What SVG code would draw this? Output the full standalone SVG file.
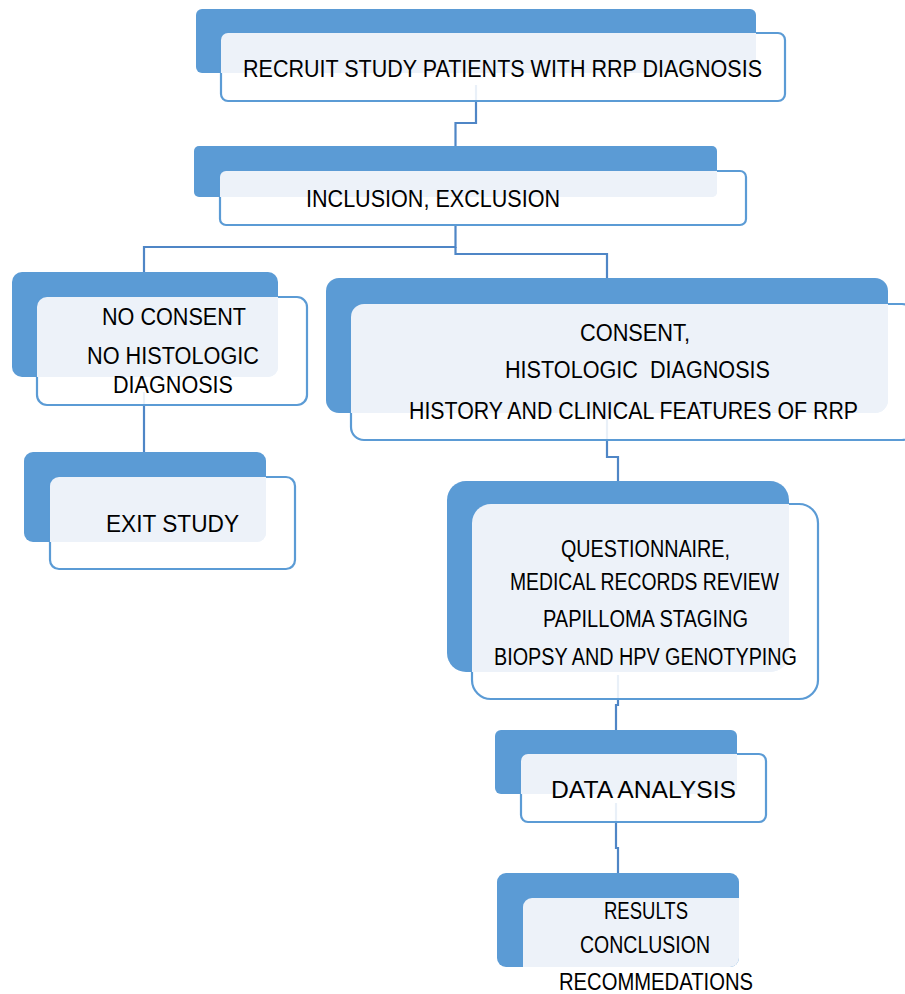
<svg xmlns="http://www.w3.org/2000/svg" width="905" height="994" viewBox="0 0 905 994">
<style>
.back{fill:#5B9BD5}
.front{fill:#ffffff;fill-opacity:0.88;stroke:#5B9BD5;stroke-width:2.2}
.ov{fill:#EDF2F9}
.conn{fill:none;stroke:#4F86C6;stroke-width:2.2}
text{font-family:"Liberation Sans",Arial,sans-serif;fill:#000;font-size:23px}
</style>
<rect width="905" height="994" fill="#ffffff"/>
<g id="connectors">
<path class="conn" d="M476,85 V123 H455.5 V146"/>
<path class="conn" d="M455.5,225 V247 H144 V272"/>
<path class="conn" d="M455.5,247 V254 H607 V278"/>
<path class="conn" d="M144,392 V452"/>
<path class="conn" d="M607,413 V457 H618 V481"/>
<path class="conn" d="M618,675 V705 H616 V730"/>
<path class="conn" d="M616,803 V848 H618 V873"/>
</g>
<g id="n1">
<rect class="back" x="196" y="9" width="560" height="64" rx="6"/>
<rect class="front" x="221" y="33" width="564" height="68" rx="7"/>
<path class="ov" d="M228,33 H756 V67 A6,6 0 0 1 750,73 H221 V40 A7,7 0 0 1 228,33 Z"/>
<text x="243" y="77" textLength="519" lengthAdjust="spacingAndGlyphs">RECRUIT STUDY PATIENTS WITH RRP DIAGNOSIS</text>
</g>
<g id="n2">
<rect class="back" x="194" y="146" width="523" height="51" rx="5"/>
<rect class="front" x="220" y="171" width="526" height="54" rx="6"/>
<path class="ov" d="M226,171 H717 V192 A5,5 0 0 1 712,197 H220 V177 A6,6 0 0 1 226,171 Z"/>
<text x="306" y="207" textLength="254" lengthAdjust="spacingAndGlyphs">INCLUSION, EXCLUSION</text>
</g>
<g id="n3">
<rect class="back" x="12" y="272" width="266" height="105" rx="10"/>
<rect class="front" x="37" y="297" width="270" height="108" rx="10"/>
<path class="ov" d="M47,297 H278 V367 A10,10 0 0 1 268,377 H37 V307 A10,10 0 0 1 47,297 Z"/>
<text x="102" y="325" textLength="144" lengthAdjust="spacingAndGlyphs">NO CONSENT</text>
<text x="87" y="364" textLength="172" lengthAdjust="spacingAndGlyphs">NO HISTOLOGIC</text>
<text x="113" y="393" textLength="120" lengthAdjust="spacingAndGlyphs">DIAGNOSIS</text>
</g>
<g id="n4">
<rect class="back" x="24" y="452" width="242" height="90" rx="9"/>
<rect class="front" x="50" y="477" width="245" height="92" rx="9"/>
<path class="ov" d="M59,477 H266 V533 A9,9 0 0 1 257,542 H50 V486 A9,9 0 0 1 59,477 Z"/>
<text x="106" y="532" font-size="25" textLength="133" lengthAdjust="spacingAndGlyphs">EXIT STUDY</text>
</g>
<g id="n5">
<rect class="back" x="326" y="278" width="562" height="135" rx="13"/>
<rect class="front" x="351" y="304" width="564" height="136" rx="13"/>
<path class="ov" d="M364,304 H888 V400 A13,13 0 0 1 875,413 H351 V317 A13,13 0 0 1 364,304 Z"/>
<text x="580" y="341" textLength="110" lengthAdjust="spacingAndGlyphs">CONSENT,</text>
<text x="505" y="378" textLength="265" lengthAdjust="spacingAndGlyphs" xml:space="preserve">HISTOLOGIC  DIAGNOSIS</text>
<text x="409" y="419" textLength="449" lengthAdjust="spacingAndGlyphs">HISTORY AND CLINICAL FEATURES OF RRP</text>
</g>
<g id="n6">
<rect class="back" x="447" y="481" width="342" height="191" rx="19"/>
<rect class="front" x="472" y="504" width="346" height="195" rx="19"/>
<path class="ov" d="M491,504 H789 V653 A19,19 0 0 1 770,672 H472 V523 A19,19 0 0 1 491,504 Z"/>
<text x="561" y="557" font-size="22" textLength="169" lengthAdjust="spacingAndGlyphs">QUESTIONNAIRE,</text>
<text x="510" y="590" font-size="22" textLength="269" lengthAdjust="spacingAndGlyphs">MEDICAL RECORDS REVIEW</text>
<text x="543" y="627" font-size="22" textLength="205" lengthAdjust="spacingAndGlyphs">PAPILLOMA STAGING</text>
<text x="494" y="665" font-size="22" textLength="303" lengthAdjust="spacingAndGlyphs">BIOPSY AND HPV GENOTYPING</text>
</g>
<g id="n7">
<rect class="back" x="495" y="730" width="242" height="64" rx="6"/>
<rect class="front" x="521" y="754" width="245" height="68" rx="7"/>
<path class="ov" d="M528,754 H737 V788 A6,6 0 0 1 731,794 H521 V761 A7,7 0 0 1 528,754 Z"/>
<text x="551" y="798" font-size="26" textLength="185" lengthAdjust="spacingAndGlyphs">DATA ANALYSIS</text>
</g>
<g id="n8">
<rect class="back" x="497" y="873" width="242" height="94" rx="9"/>
<path class="ov" d="M532,898 H739 V958 A9,9 0 0 1 730,967 H523 V907 A9,9 0 0 1 532,898 Z"/>
<text x="604" y="919" font-size="22" textLength="84" lengthAdjust="spacingAndGlyphs">RESULTS</text>
<text x="580" y="953" font-size="22" textLength="130" lengthAdjust="spacingAndGlyphs">CONCLUSION</text>
<text x="559" y="990" font-size="22" textLength="194" lengthAdjust="spacingAndGlyphs">RECOMMEDATIONS</text>
</g>
</svg>
